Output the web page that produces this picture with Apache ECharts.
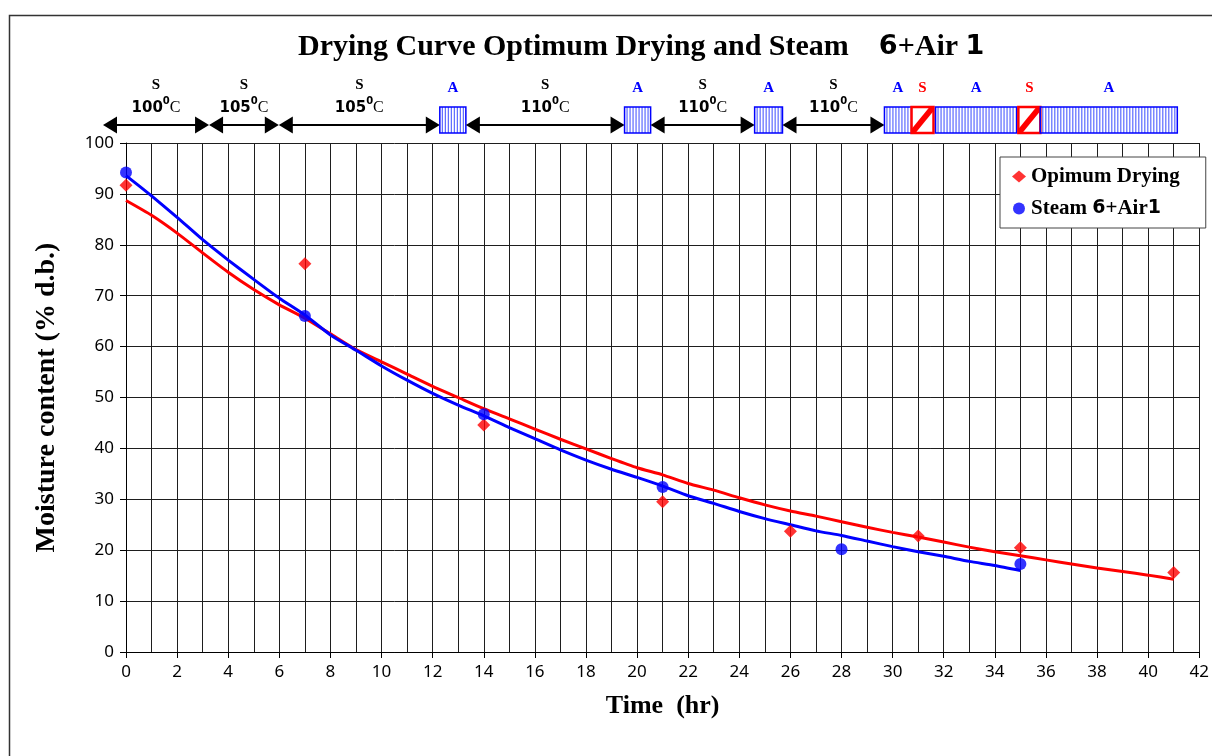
<!DOCTYPE html>
<html>
<head>
<meta charset="utf-8">
<script src="https://cdn.jsdelivr.net/npm/echarts@6/dist/echarts.min.js"></script>
<style>
  html, body { margin: 0; padding: 0; background: #fff; }
  #chart { width: 1212px; height: 756px; }
</style>
</head>
<body>
<div id="chart"></div>
<script>
// Measured moisture content (% d.b.) at sampling times (hr)
const optTime = [0, 7, 14, 21, 26, 31, 35, 41];
const optMoisture = [91.7, 76.3, 44.6, 29.5, 23.7, 22.8, 20.5, 15.6];
const steamTime = [0, 7, 14, 21, 28, 35];
const steamMoisture = [94.2, 66.0, 46.7, 32.4, 20.2, 17.3];

// Fitted drying curves, read hourly
const optFitHours = [0,1,2,3,4,5,6,7,8,9,10,11,12,13,14,15,16,17,18,19,20,
  21,22,23,24,25,26,27,28,29,30,31,32,33,34,35,36,37,38,39,40,41];
const optFit = [88.7,85.8,82.3,78.4,74.6,71.2,68.2,65.6,62.5,59.4,57.0,54.6,52.2,50.0,47.8,45.8,43.8,41.8,39.9,38.0,36.2,
  34.8,33.1,31.8,30.3,28.9,27.7,26.7,25.6,24.5,23.5,22.6,21.6,20.6,19.7,18.9,18.1,17.3,16.5,15.8,15.1,14.3];
const steamFitHours = [0,1,2,3,4,5,6,7,8,9,10,11,12,13,14,15,16,17,18,19,20,
  21,22,23,24,25,26,27,28,29,30,31,32,33,34,35];
const steamFit = [93.6,89.6,85.4,81.0,77.0,73.2,69.5,66.2,62.3,59.3,56.2,53.4,50.8,48.5,46.4,44.1,41.9,39.7,37.7,35.9,34.3,
  32.6,30.7,29.2,27.6,26.2,25.0,23.8,22.9,21.8,20.7,19.7,18.8,17.8,17.0,16.0];

// Process schedule: S = steam period, A = air period, P = short steam pulse
const stageMode  = ['S', 'S', 'S', 'A', 'S', 'A', 'S', 'A', 'S', 'A', 'P', 'A', 'P', 'A'];
const stageStart = [-0.90, 3.25, 5.98, 12.28, 13.30, 19.51, 20.53, 24.60, 25.69, 29.68, 30.74, 31.68, 34.92, 35.78];
const stageEnd   = [3.25, 5.98, 12.28, 13.30, 19.51, 20.53, 24.60, 25.69, 29.68, 30.74, 31.60, 34.85, 35.78, 41.14];
const stageTemp  = ['100', '105', '105', '', '110', '', '110', '', '110', '', '', '', '', ''];

const chart = echarts.init(document.getElementById('chart'), null, { renderer: 'canvas' });

const serif = '"Liberation Serif", "Times New Roman", serif';
const sans = '"DejaVu Sans", Verdana, sans-serif';
const tickFont = '"Noto Sans", Tahoma, sans-serif';
const gridColor = '#1e1e1e';

function renderStage(params, api) {
  const i = params.dataIndex;
  const x1 = api.coord([api.value(0), 100])[0];
  const x2 = api.coord([api.value(1), 100])[0];
  const top = api.coord([0, 100])[1];
  const mode = stageMode[i];
  const cx = (x1 + x2) / 2;
  const children = [];
  if (mode === 'S') {
    const y = top - 18;
    children.push({ type: 'line', shape: { x1: x1 + 8, y1: y, x2: x2 - 8, y2: y },
      style: { stroke: '#000', lineWidth: 2 } });
    children.push({ type: 'polygon', shape: { points: [[x1, y], [x1 + 14, y - 8.5], [x1 + 14, y + 8.5]] },
      style: { fill: '#000' } });
    children.push({ type: 'polygon', shape: { points: [[x2, y], [x2 - 14, y - 8.5], [x2 - 14, y + 8.5]] },
      style: { fill: '#000' } });
    children.push({ type: 'text', style: { text: 'S', x: cx, y: top - 58, align: 'center', verticalAlign: 'middle',
      fontFamily: serif, fontWeight: 'bold', fontSize: 15, fill: '#000' } });
    children.push({ type: 'text', style: {
      text: '{d|' + stageTemp[i] + '}{s|0}{c|C}', x: cx, y: top - 37, align: 'center', verticalAlign: 'middle',
      rich: {
        d: { fontFamily: sans, fontWeight: 'bold', fontSize: 15, fill: '#000', lineHeight: 20, verticalAlign: 'bottom' },
        s: { fontFamily: sans, fontWeight: 'bold', fontSize: 10, fill: '#000', lineHeight: 20, verticalAlign: 'top' },
        c: { fontFamily: serif, fontSize: 16, fill: '#000', lineHeight: 20, verticalAlign: 'bottom' }
      } } });
  } else if (mode === 'A') {
    const yT = top - 36, yB = top - 10;
    for (let x = x1 + 2.5; x < x2 - 1; x += 3) {
      children.push({ type: 'line', shape: { x1: x, y1: yT, x2: x, y2: yB },
        style: { stroke: '#3b4cff', lineWidth: 1 } });
    }
    children.push({ type: 'rect', shape: { x: x1, y: yT, width: x2 - x1, height: yB - yT },
      style: { fill: null, stroke: '#0000ff', lineWidth: 1.5 } });
    children.push({ type: 'text', style: { text: 'A', x: cx, y: top - 55, align: 'center', verticalAlign: 'middle',
      fontFamily: serif, fontWeight: 'bold', fontSize: 15, fill: '#0000ff' } });
  } else {
    const yT = top - 36, yB = top - 10;
    children.push({ type: 'rect', shape: { x: x1, y: yT, width: x2 - x1, height: yB - yT },
      style: { fill: '#fff', stroke: 'none' } });
    children.push({ type: 'polygon', shape: { points: [[x1, yB - 4], [x2 - 4, yT], [x2, yT], [x2, yT + 4], [x1 + 4, yB], [x1, yB]] },
      style: { fill: '#ff0000' } });
    children.push({ type: 'rect', shape: { x: x1, y: yT, width: x2 - x1, height: yB - yT },
      style: { fill: null, stroke: '#ff0000', lineWidth: 2.5 } });
    children.push({ type: 'text', style: { text: 'S', x: cx, y: top - 55, align: 'center', verticalAlign: 'middle',
      fontFamily: serif, fontWeight: 'bold', fontSize: 15, fill: '#ff0000' } });
  }
  return { type: 'group', children };
}

const option = {
  animation: false,
  backgroundColor: '#fff',
  title: {
    text: '{t|Drying Curve Optimum Drying and Steam}{t|    }{n|6}{t|+Air }{n|1}',
    left: 293,
    top: 27,
    textStyle: {
      rich: {
        t: { fontFamily: serif, fontWeight: 'bold', fontSize: 30, color: '#000' },
        n: { fontFamily: sans, fontWeight: 'bold', fontSize: 27, color: '#000' }
      }
    }
  },
  legend: {
    left: 1000,
    top: 157,
    orient: 'vertical',
    padding: [9, 26, 9, 12],
    itemGap: 11,
    itemWidth: 14,
    itemHeight: 12,
    backgroundColor: '#fff',
    borderColor: '#444',
    borderWidth: 1,
    data: [
      { name: 'Opimum Drying', icon: 'diamond' },
      { name: 'Steam 6+Air1', icon: 'circle' }
    ],
    formatter: function (name) {
      if (name === 'Steam 6+Air1') return '{t|Steam }{n|6}{t|+Air}{n|1}';
      return '{t|' + name + '}';
    },
    textStyle: {
      rich: {
        t: { fontFamily: serif, fontWeight: 'bold', fontSize: 21, color: '#000' },
        n: { fontFamily: sans, fontWeight: 'bold', fontSize: 19, color: '#000' }
      }
    }
  },
  graphic: [{
    type: 'rect',
    shape: { x: 9.5, y: 15.5, width: 1300, height: 800 },
    style: { fill: null, stroke: '#333', lineWidth: 1.5 },
    silent: true
  }],
  grid: { left: 126, right: 12, top: 143, bottom: 104, containLabel: false },
  xAxis: {
    type: 'value',
    min: 0, max: 42, interval: 2,
    name: 'Time  (hr)',
    nameLocation: 'middle',
    nameGap: 41,
    nameTextStyle: { fontFamily: serif, fontWeight: 'bold', fontSize: 26, color: '#000' },
    axisLine: { show: true, onZero: false, lineStyle: { color: '#000', width: 1 } },
    axisTick: { show: true, length: 6, lineStyle: { color: '#000' } },
    minorTick: { show: false, splitNumber: 2 },
    axisLabel: { fontFamily: tickFont, fontSize: 17, color: '#000', margin: 12 },
    splitLine: { show: true, lineStyle: { color: gridColor, width: 1 } },
    minorSplitLine: { show: true, lineStyle: { color: gridColor, width: 1 } }
  },
  yAxis: {
    type: 'value',
    min: 0, max: 100, interval: 10,
    name: 'Moisture content (% d.b.)',
    nameLocation: 'middle',
    nameGap: 65,
    nameRotate: 90,
    nameTextStyle: { fontFamily: serif, fontWeight: 'bold', fontSize: 28, color: '#000' },
    axisLine: { show: true, lineStyle: { color: '#000', width: 1 } },
    axisTick: { show: true, length: 6, lineStyle: { color: '#000' } },
    axisLabel: { fontFamily: tickFont, fontSize: 17, color: '#000', margin: 12 },
    splitLine: { show: true, lineStyle: { color: gridColor, width: 1 } }
  },
  series: [
    {
      name: 'Opimum Drying fit',
      type: 'line',
      data: optFitHours.map((h, k) => [h, optFit[k]]),
      showSymbol: false,
      smooth: 0.2,
      lineStyle: { color: '#ff0000', width: 3 },
      z: 3
    },
    {
      name: 'Steam 6+Air1 fit',
      type: 'line',
      data: steamFitHours.map((h, k) => [h, steamFit[k]]),
      showSymbol: false,
      smooth: 0.2,
      lineStyle: { color: '#0000ff', width: 3 },
      z: 3
    },
    {
      name: 'Opimum Drying',
      type: 'scatter',
      symbol: 'diamond',
      symbolSize: 13,
      itemStyle: { color: '#ff0000' },
      data: optTime.map((t, k) => [t, optMoisture[k]]),
      z: 4
    },
    {
      name: 'Steam 6+Air1',
      type: 'scatter',
      symbol: 'circle',
      symbolSize: 12,
      itemStyle: { color: '#0000ff' },
      data: steamTime.map((t, k) => [t, steamMoisture[k]]),
      z: 4
    },
    {
      name: 'schedule',
      type: 'custom',
      clip: false,
      silent: true,
      renderItem: renderStage,
      encode: { x: [0, 1] },
      data: stageStart.map((s, k) => [s, stageEnd[k]]),
      z: 5
    }
  ]
};

chart.setOption(option);
</script>
</body>
</html>
